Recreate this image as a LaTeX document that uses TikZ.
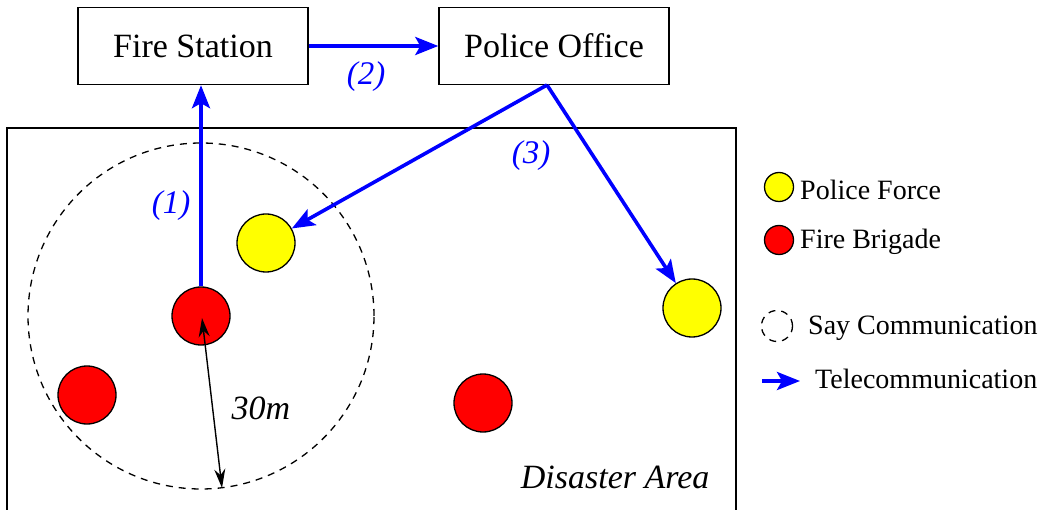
\documentclass[tikz,border=0pt]{standalone}
\usepackage{fontspec}
\setmainfont{Liberation Serif}
\usetikzlibrary{arrows.meta,positioning,calc}
\definecolor{tele}{HTML}{0000FF}
\definecolor{pfyellow}{HTML}{FFFF00}
\definecolor{fbred}{HTML}{FF0000}

\begin{document}
\begin{tikzpicture}[
    x=1pt, y=-1pt,
    every node/.style={font=\fontsize{28}{32}\selectfont},
    office/.style={draw, line width=1.4pt, minimum width=230pt, minimum height=77pt,
                   inner sep=0pt, font=\fontsize{34}{40}\selectfont},
    agent/.style={circle, draw, line width=1.3pt, minimum size=58pt, inner sep=0pt, fill=#1},
    agent/.default=fbred,
    key/.style={circle, draw, line width=1.3pt, minimum size=29pt, inner sep=0pt, fill=#1},
    tel/.style={-{Stealth[length=23pt, width=18pt, inset=5pt]}, line width=3.6pt, tele},
    tlbl/.style={tele, font=\fontsize{33}{38}\selectfont\itshape},
    say/.style={draw, dashed, line width=1.3pt, dash pattern=on 7pt off 6pt},
  ]
  \useasboundingbox (0,0) rectangle (1049,510);

  % offices
  \node[office] (fire)   at (193,46) {Fire Station};
  \node[office] (police) at (554,46) {Police Office};

  % disaster area
  \draw[line width=1.3pt] (7,514) -- (7,128) -- (736,128) -- (736,514);
  \node[font=\fontsize{34}{40}\selectfont\itshape, anchor=east] (area) at (713,477) {Disaster Area};

  % say communication range
  \draw[say] (201,316) circle (173pt);

  % agents
  \node[agent] (fb1) at (201,316) {};
  \node[agent] (fb2) at (87,395) {};
  \node[agent] (fb3) at (483,403) {};
  \node[agent=pfyellow] (pf1) at (266,243) {};
  \node[agent=pfyellow] (pf2) at (692,308) {};

  % radius
  \coordinate (rim) at (222,488);
  \draw[{Stealth[length=19pt, width=11pt]}-{Stealth[length=19pt, width=11pt]}, line width=1.4pt]
    ($(fb1.center)+(1,2)$) -- (rim);
  \node[font=\fontsize{34}{40}\selectfont\itshape] (range) at (261,408) {30m};

  % telecommunication
  \coordinate (split) at (547,85);
  \draw[tel] (fb1.north) -- (fb1.north |- fire.south);
  \draw[tel] (fire.east) -- (police.west);
  \draw[tel] (split) -- (pf1);
  \draw[tel] (split) -- (pf2);
  \node[tlbl] (n1) at (171,206) {(1)};
  \node[tlbl] (n2) at (366,77) {(2)};
  \node[tlbl] (n3) at (531,156) {(3)};

  % legend
  \node[key=pfyellow] (kpf) at (779,187) {};
  \node[anchor=west, inner sep=0pt] (tpf) at (800,190) {Police Force};
  \node[key=fbred] (kfb) at (779,240) {};
  \node[anchor=west, inner sep=0pt] (tfb) at (800,242) {Fire Brigade};
  \node[circle, say, minimum size=31pt, inner sep=0pt] (ksay) at (777,326) {};
  \node[anchor=west, inner sep=0pt] (tsay) at (808,328) {Say Communication};
  \coordinate (kt) at (762,381);
  \draw[tel] (kt) -- ++(38,0) coordinate (ktend);
  \node[anchor=west, inner sep=0pt] (ttel) at (815,379) {Telecommunication};
\end{tikzpicture}
\end{document}
